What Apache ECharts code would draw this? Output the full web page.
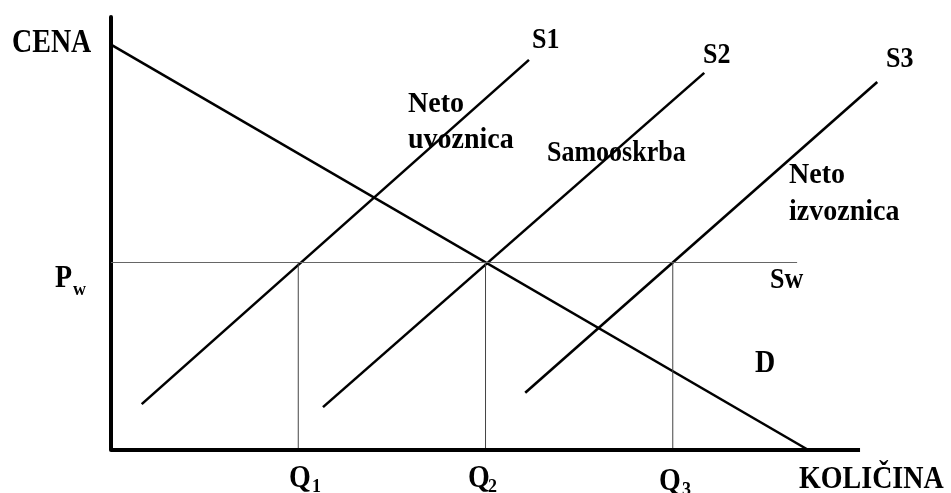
<!DOCTYPE html>
<html>
<head>
<meta charset="utf-8">
<script src="https://cdn.jsdelivr.net/npm/echarts@6/dist/echarts.min.js"></script>
<style>
  html, body { margin: 0; padding: 0; background: #fff; }
  #main { width: 951px; height: 493px; }
</style>
</head>
<body>
<div id="main"></div>
<script>
// krivulje (kolicina, cena) v poljubnih enotah, os kolicine sega do 100
const demand = [[0, 93.6], [93.1, 0]]
const supply1 = [[4.1, 10.6], [55.8, 90.1]]
const supply2 = [[28.3, 9.9], [79.2, 87.1]]
const supply3 = [[55.3, 13.2], [102.3, 85.0]]
const worldPrice = 43.3
const worldPriceEnd = 91.6
const quantities = [25, 50, 75]
const axisEnd = 100

const FONT = 'Liberation Serif'

var myChart = echarts.init(document.getElementById('main'))

const thick = { color: '#000', width: 2.6 }
const thin = { color: '#444', width: 1 }

function lineSeries(data, style, z) {
  return {
    type: 'line',
    data: data,
    symbol: 'none',
    silent: true,
    lineStyle: style,
    z: z || 3
  }
}

const series = [
  lineSeries([[0, 0], [axisEnd, 0]], { color: '#000', width: 4 }, 5), /* os kolicine */
  lineSeries(demand, thick),
  lineSeries(supply1, thick),
  lineSeries(supply2, thick),
  lineSeries(supply3, thick),
  lineSeries([[0, worldPrice], [worldPriceEnd, worldPrice]], { color: '#666', width: 1 })
]
quantities.forEach(q => {
  series.push(lineSeries([[q, 0], [q, worldPrice]], thin))
})

/* napisi */
function txt(text, x, y, size, sy) {
  return {
    type: 'text',
    x: x,
    y: y,
    scaleY: sy || 1.08,
    style: {
      text: text,
      fontFamily: FONT,
      fontWeight: 'bold',
      fontSize: size || 28,
      fill: '#000',
      align: 'left',
      verticalAlign: 'middle'
    },
    z: 10
  }
}

const graphics = [
  txt('CENA', 12, 44, 28, 1.17),
  txt('S1', 532, 40, 26, 1.17),
  txt('S2', 703, 55, 26, 1.17),
  txt('S3', 886, 59, 26, 1.17),
  txt('Neto', 408, 104),
  txt('uvoznica', 408, 140),
  txt('Samooskrba', 547, 153, 26, 1.12),
  txt('Neto', 789, 175),
  txt('izvoznica', 789, 212),
  txt('P', 55, 279, 28, 1.12),
  txt('w', 73, 290, 18),
  txt('Sw', 770, 280, 26, 1.12),
  txt('D', 755, 364, 28, 1.1),
  txt('Q', 289, 479, 28, 1.12),
  txt('1', 312, 487, 18),
  txt('Q', 468, 479, 28, 1.12),
  txt('2', 488, 487, 18),
  txt('Q', 659, 482, 28, 1.12),
  txt('3', 682, 490, 18),
  txt('KOLIČINA', 799, 480, 28, 1.1)
]

var option = {
  animation: false,
  backgroundColor: '#fff',
  grid: { left: 111, right: 61, top: 17, bottom: 43 },
  xAxis: {
    type: 'value',
    min: 0,
    max: 104,
    axisLine: { show: false },
    axisTick: { show: false },
    axisLabel: { show: false },
    splitLine: { show: false }
  },
  yAxis: {
    type: 'value',
    min: 0,
    max: 100,
    axisLine: { show: true, onZero: false, lineStyle: { color: '#000', width: 4 } },
    axisTick: { show: false },
    axisLabel: { show: false },
    splitLine: { show: false }
  },
  series: series,
  graphic: graphics
}
myChart.setOption(option)
</script>
</body>
</html>
